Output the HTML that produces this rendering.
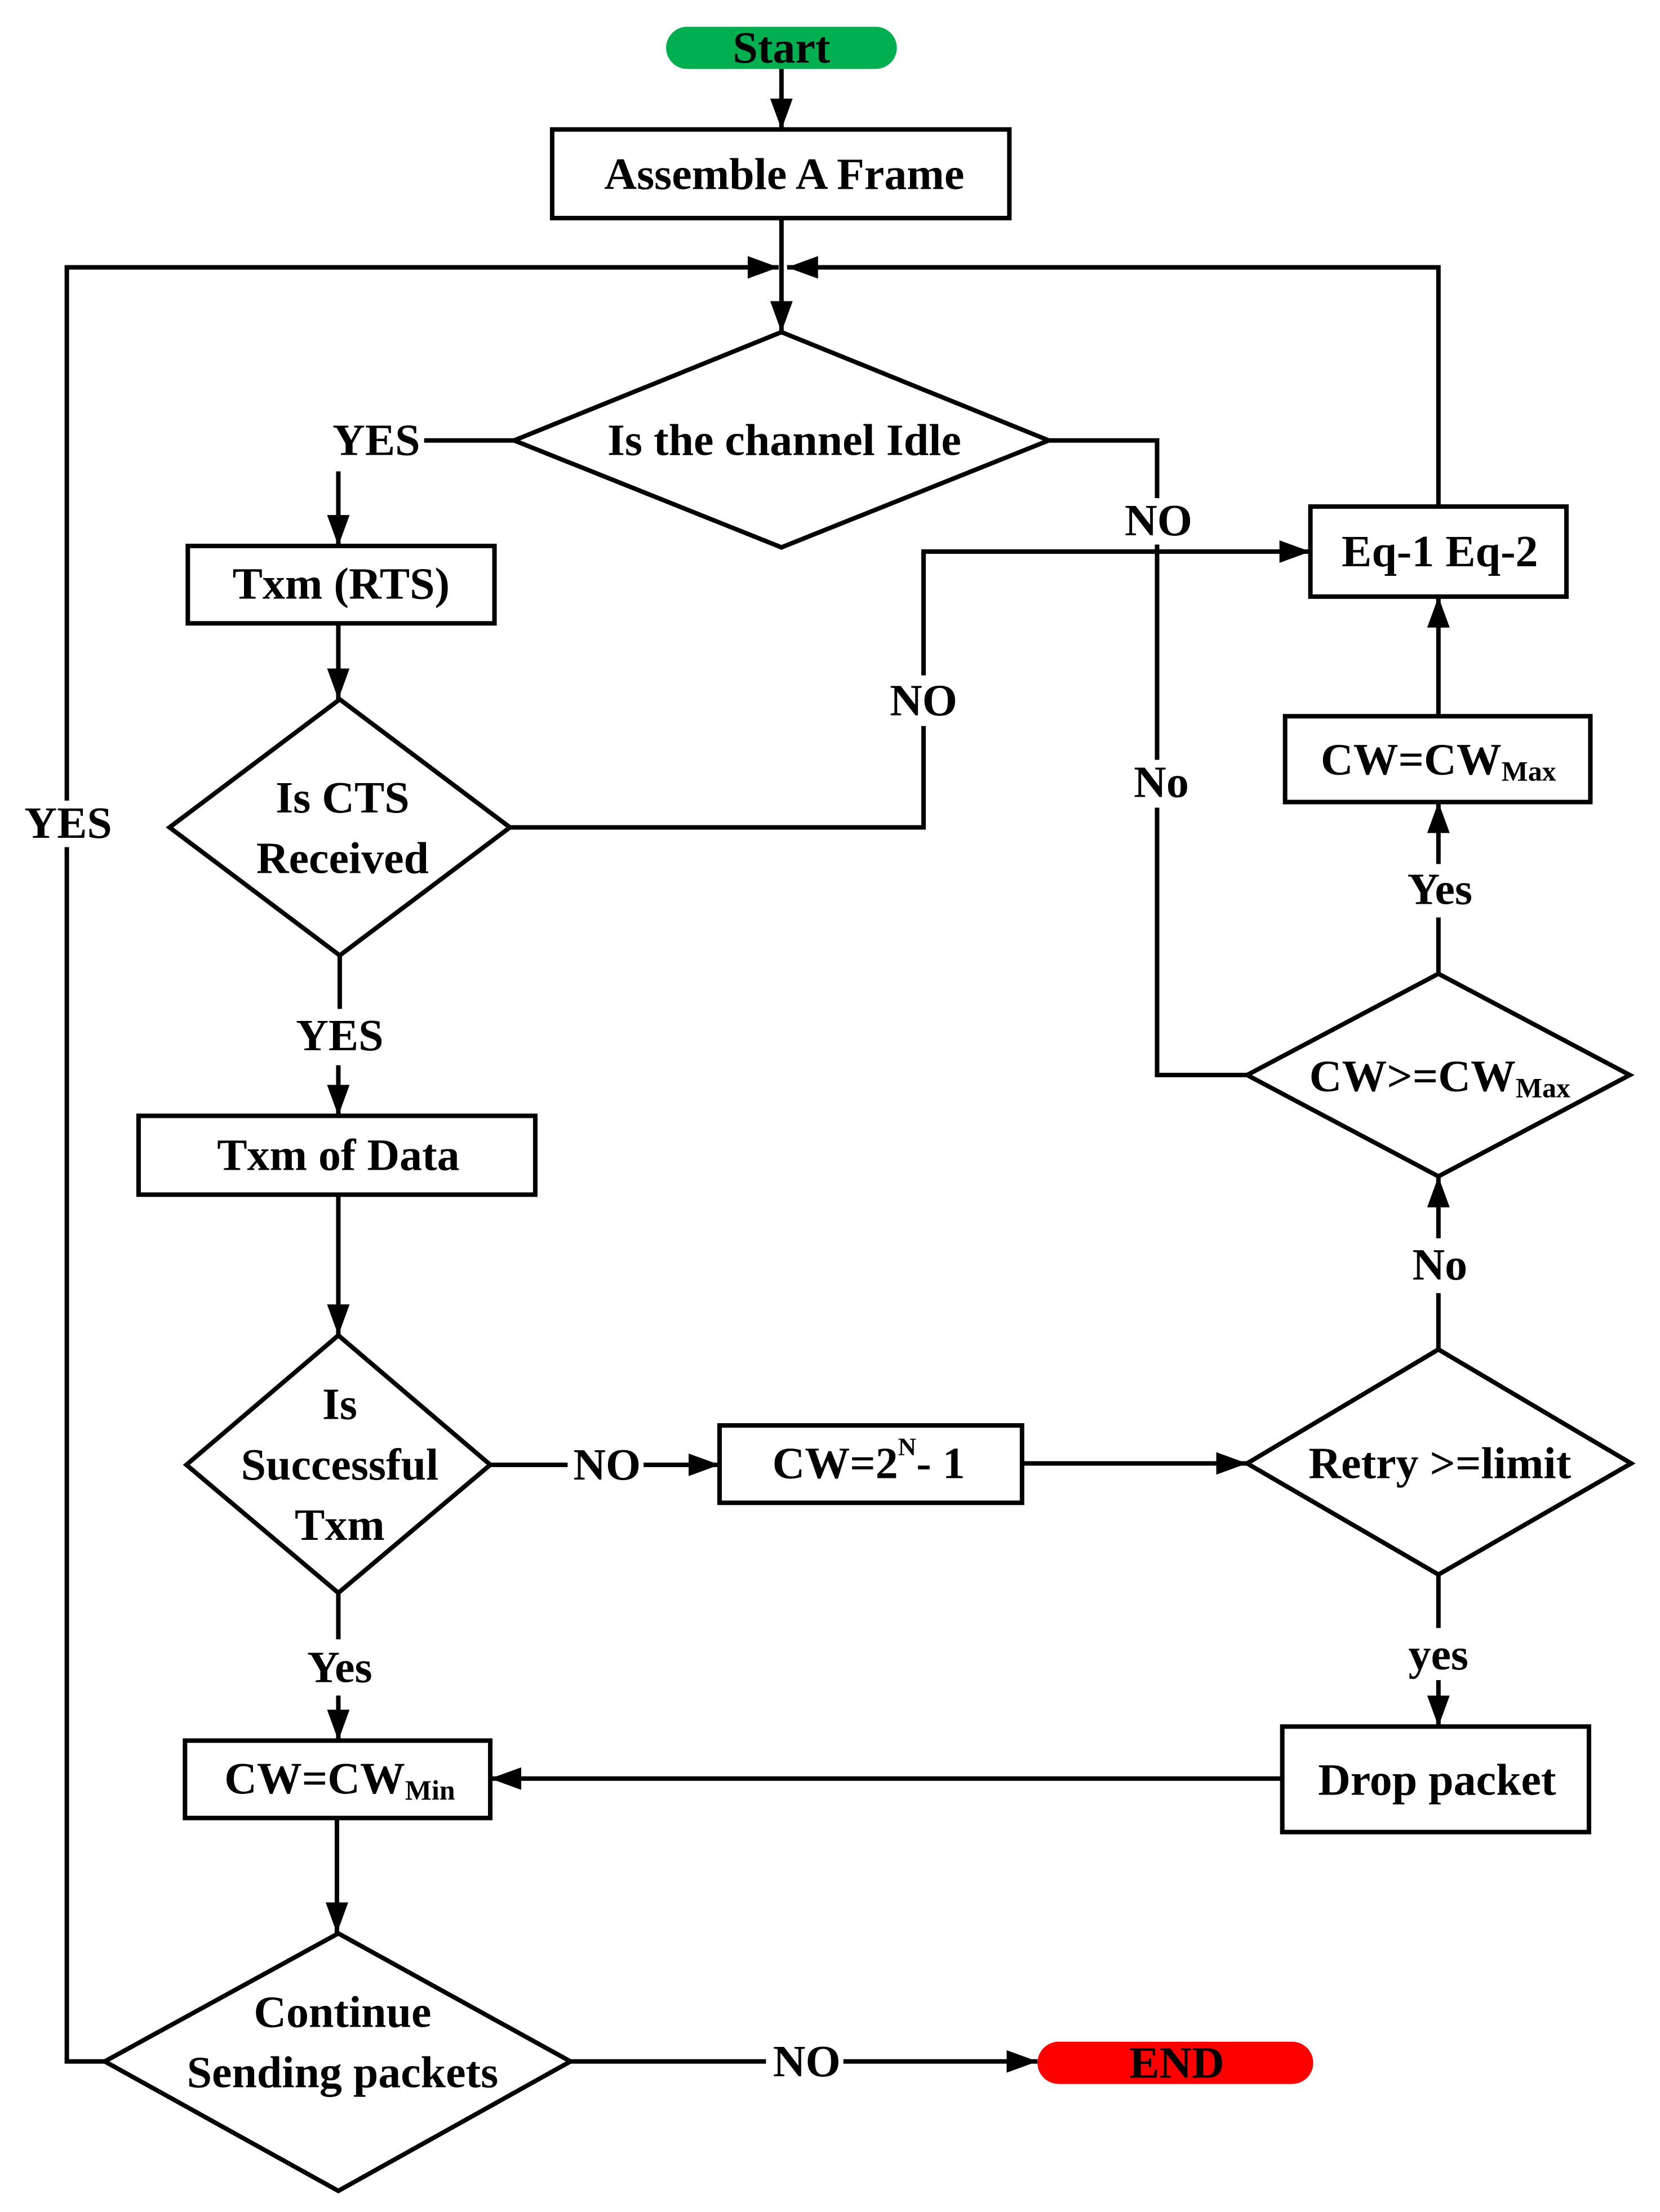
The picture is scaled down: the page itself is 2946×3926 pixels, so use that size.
<!DOCTYPE html>
<html><head><meta charset="utf-8"><style>
html,body{margin:0;padding:0;background:#fff}
svg{display:block}
text{font-family:"Liberation Serif",serif;font-weight:bold;fill:#000;text-anchor:middle;dominant-baseline:central}
</style></head><body>
<svg width="2946" height="3926" viewBox="0 0 1180 1572" preserveAspectRatio="none" xmlns="http://www.w3.org/2000/svg">
<defs>
<marker id="a" markerUnits="userSpaceOnUse" markerWidth="24" markerHeight="16" refX="22" refY="8" orient="auto">
<path d="M0,0 L22,8 L0,16 Z" fill="#000"/></marker>
</defs>
<g transform="translate(1.5,2)">
<g fill="none" stroke="#000" stroke-width="3.2">
<rect x="391" y="90" width="325" height="63"/>
<polygon points="554,234 744,311 554,387 364,311"/>
<rect x="132" y="386" width="218" height="55"/>
<polygon points="240,495 361,586 240,677 119,586"/>
<rect x="930" y="358" width="182" height="64"/>
<rect x="912" y="507" width="217" height="61"/>
<polygon points="1021,690 1157,762 1021,834 885,762"/>
<polygon points="1021,957 1158,1038 1021,1117 885,1038"/>
<rect x="910" y="1225" width="218" height="75"/>
<rect x="97" y="791" width="282" height="56"/>
<polygon points="239,947 347,1039 239,1130 131,1039"/>
<rect x="510" y="1011" width="215" height="55"/>
<rect x="130" y="1235" width="217" height="55"/>
<polygon points="239,1372 404,1463 239,1555 73,1463"/>
<line x1="554" y1="47" x2="554" y2="90" marker-end="url(#a)"/>
<line x1="554" y1="153" x2="554" y2="234" marker-end="url(#a)"/>
<polyline points="73,1463 46,1463 46,600"/>
<polyline points="46,567 46,188 552,188" marker-end="url(#a)"/>
<polyline points="1021,358 1021,188 558,188" marker-end="url(#a)"/>
<line x1="300" y1="311" x2="364" y2="311"/>
<line x1="239" y1="333" x2="239" y2="386" marker-end="url(#a)"/>
<polyline points="744,311 821,311 821,352"/>
<polyline points="821,385 821,538"/>
<polyline points="821,572 821,762 885,762"/>
<line x1="239" y1="441" x2="239" y2="495" marker-end="url(#a)"/>
<polyline points="361,586 655,586 655,514"/>
<polyline points="655,478 655,390 930,390" marker-end="url(#a)"/>
<line x1="1021" y1="507" x2="1021" y2="422" marker-end="url(#a)"/>
<line x1="1021" y1="612" x2="1021" y2="568" marker-end="url(#a)"/>
<line x1="1021" y1="690" x2="1021" y2="650"/>
<line x1="1021" y1="878" x2="1021" y2="834" marker-end="url(#a)"/>
<line x1="1021" y1="957" x2="1021" y2="917"/>
<line x1="1021" y1="1117" x2="1021" y2="1155"/>
<line x1="1021" y1="1192" x2="1021" y2="1225" marker-end="url(#a)"/>
<line x1="910" y1="1262" x2="347" y2="1262" marker-end="url(#a)"/>
<line x1="240" y1="677" x2="240" y2="715"/>
<line x1="239" y1="755" x2="239" y2="791" marker-end="url(#a)"/>
<line x1="239" y1="847" x2="239" y2="947" marker-end="url(#a)"/>
<line x1="347" y1="1039" x2="402" y2="1039"/>
<line x1="456" y1="1039" x2="510" y2="1039" marker-end="url(#a)"/>
<line x1="725" y1="1038" x2="885" y2="1038" marker-end="url(#a)"/>
<line x1="239" y1="1130" x2="239" y2="1163"/>
<line x1="239" y1="1203" x2="239" y2="1235" marker-end="url(#a)"/>
<line x1="238" y1="1290" x2="238" y2="1372" marker-end="url(#a)"/>
<line x1="404" y1="1463" x2="543" y2="1463"/>
<line x1="598" y1="1463" x2="736" y2="1463" marker-end="url(#a)"/>
</g>
<rect x="472" y="17" width="164" height="30" rx="15" fill="#00b050"/>
<rect x="736" y="1449" width="196" height="30" rx="15" fill="#ff0000"/>
<g font-size="32">
<text x="554" y="32">Start</text>
<text x="835" y="1464">END</text>
<text x="556" y="122">Assemble A Frame</text>
<text x="556" y="311">Is the channel Idle</text>
<text x="266" y="311">YES</text>
<text x="822" y="368">NO</text>
<text x="241" y="413">Txm (RTS)</text>
<text x="242" y="565">Is CTS</text>
<text x="242" y="608">Received</text>
<text x="655" y="496">NO</text>
<text x="1022" y="390">Eq-1 Eq-2</text>
<text x="824" y="554">No</text>
<text x="47" y="583">YES</text>
<text x="1022" y="630">Yes</text>
<text x="1022" y="897">No</text>
<text x="1021" y="1174">yes</text>
<text x="1020" y="1263">Drop packet</text>
<text x="240" y="734">YES</text>
<text x="239" y="819">Txm of Data</text>
<text x="240" y="996">Is</text>
<text x="240" y="1039">Successful</text>
<text x="240" y="1082">Txm</text>
<text x="430" y="1039">NO</text>
<text x="1022" y="1038">Retry &gt;=limit</text>
<text x="240" y="1183">Yes</text>
<text x="242" y="1428">Continue</text>
<text x="242" y="1471">Sending packets</text>
<text x="572" y="1463">NO</text>
<text x="1021" y="538">CW=CW<tspan font-size="20" dy="8">Max</tspan></text>
<text x="1022" y="763">CW&gt;=CW<tspan font-size="20" dy="8">Max</tspan></text>
<text x="240" y="1262">CW=CW<tspan font-size="20" dy="8">Min</tspan></text>
<text x="616" y="1038">CW=2<tspan font-size="18" dy="-12">N</tspan><tspan dy="12">- 1</tspan></text>
</g>
</g>
</svg>
</body></html>
